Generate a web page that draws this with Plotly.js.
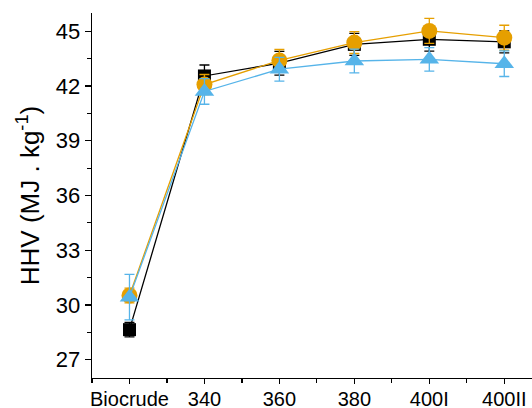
<!DOCTYPE html>
<html><head><meta charset="utf-8">
<script src="https://cdn.plot.ly/plotly-3.0.1.min.js"></script>
<style>body{margin:0;background:#fff}#c{width:532px;height:408px}</style>
</head><body><div id="c"></div>
<script>
const categories = ["Biocrude","340","360","380","400I","400II"];
const seriesBlack = [28.65, 42.55, 43.25, 44.28, 44.56, 44.42];
const errBlack = [0.4, 0.6, 0.65, 0.6, 0.65, 0.6];
const seriesOrange = [30.52, 42.08, 43.4, 44.38, 45.02, 44.65];
const errOrange = [0.4, 0.55, 0.6, 0.6, 0.68, 0.68];
const seriesBlue = [30.43, 41.7, 42.92, 43.37, 43.46, 43.22];
const errBlue = [1.25, 0.7, 0.65, 0.65, 0.64, 0.7];

const xIdx = categories.map((c,i)=>i);
function tr(y, err, color, symbol, size){
  return {x:xIdx, y:y, type:'scatter', mode:'lines+markers',
    line:{color:color, width:1.3},
    marker:{color:color, symbol:symbol, size:size},
    error_y:{type:'data', array:err, visible:true, color:color, thickness:1.3, width:5},
    showlegend:false, cliponaxis:false};
}
const data = [
  tr(seriesBlack, errBlack, '#000000', 'square', 13),
  tr(seriesOrange, errOrange, '#E69F00', 'circle', 16),
  tr(seriesBlue, errBlue, '#56B4E9', 'triangle-up', 17)
];
const layout = {
  width:532, height:408,
  margin:{l:92, r:0, t:13, b:30},
  paper_bgcolor:'#fff', plot_bgcolor:'#fff',
  font:{family:'Liberation Sans, Arial, sans-serif', color:'#000'},
  xaxis:{range:[-0.5,5.37], tickmode:'array', tickvals:xIdx, ticktext:categories,
    showgrid:false, zeroline:false, showline:true, linecolor:'#000', linewidth:1.3,
    ticks:'outside', ticklen:5, tickwidth:1.2, tickcolor:'#000', ticklabelstandoff:-2,
    tickfont:{size:20, color:'#000'},
    minor:{tickmode:'array', tickvals:[-0.5,0.5,1.5,2.5,3.5,4.5], ticks:'outside', ticklen:4, tickwidth:1.2, tickcolor:'#000'}},
  yaxis:{range:[26,46], tick0:27, dtick:3, showgrid:false, zeroline:false,
    showline:true, linecolor:'#000', linewidth:1.3,
    ticks:'outside', ticklen:6, tickwidth:1.2, tickcolor:'#000',
    tickfont:{size:22, color:'#000'},
    minor:{tick0:27, dtick:1.5, ticks:'outside', ticklen:4, tickwidth:1.2, tickcolor:'#000'},
    title:{text:'HHV (MJ . kg<sup>-1</sup>)', font:{size:26, color:'#000'}, standoff:8}}
};
Plotly.newPlot('c', data, layout, {displayModeBar:false, staticPlot:true});
</script></body></html>
